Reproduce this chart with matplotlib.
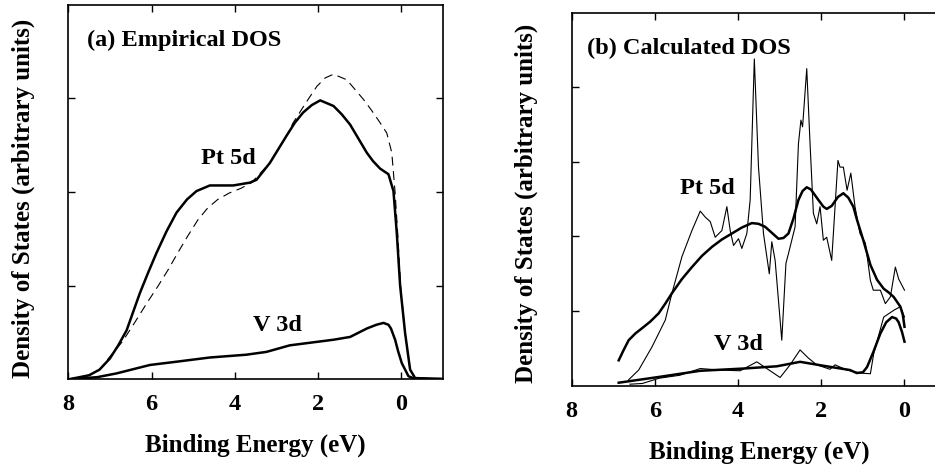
import matplotlib
matplotlib.use('Agg')
import matplotlib.pyplot as plt

plt.rcParams['font.family'] = ['Liberation Serif', 'DejaVu Serif']
plt.rcParams['font.weight'] = 'bold'
plt.rcParams['axes.labelweight'] = 'bold'

# (a) empirical DOS, binding energy (eV) vs DOS
pt_emp_e = [7.95, 7.5, 7.25, 7.0, 6.8, 6.6, 6.28, 6.08, 5.88, 5.64, 5.4, 5.15, 4.92, 4.6, 4.04,
            3.64, 3.48, 3.16, 2.76, 2.56, 2.36, 2.15, 1.95, 1.63, 1.43, 1.23, 1.03, 0.83, 0.68,
            0.51, 0.31, 0.19, 0.11, 0.03, -0.09, -0.21, -0.33, -1.0]
pt_emp_v = [0.0, 0.04, 0.10, 0.22, 0.36, 0.52, 0.92, 1.14, 1.35, 1.58, 1.78, 1.92, 2.01, 2.07,
            2.07, 2.10, 2.13, 2.31, 2.60, 2.74, 2.85, 2.93, 2.98, 2.92, 2.83, 2.72, 2.57, 2.42,
            2.33, 2.25, 2.19, 2.01, 1.56, 1.0, 0.49, 0.10, 0.01, 0.0]

pt_dash_e = [7.95, 7.5, 7.25, 7.0, 6.7, 6.41, 6.13, 5.85, 5.6, 5.37, 5.13, 4.89, 4.65, 4.41,
             4.13, 3.85, 3.6, 3.16, 2.76, 2.6, 2.3, 2.03, 1.83, 1.63, 1.31, 1.12, 0.91, 0.71,
             0.51, 0.35, 0.23, 0.15, 0.08, 0.02, -0.09, -0.21, -0.33, -1.0]
pt_dash_v = [0.0, 0.04, 0.10, 0.24, 0.40, 0.60, 0.80, 0.99, 1.17, 1.35, 1.53, 1.70, 1.83, 1.92,
             1.99, 2.04, 2.10, 2.31, 2.60, 2.74, 2.95, 3.13, 3.22, 3.26, 3.20, 3.10, 2.99, 2.87,
             2.74, 2.63, 2.42, 1.99, 1.5, 1.0, 0.49, 0.10, 0.01, 0.0]

v_emp_e = [7.9, 7.3, 6.84, 6.04, 5.4, 4.6, 3.72, 3.24, 2.68, 1.63, 1.23, 0.83, 0.60, 0.43,
           0.31, 0.25, 0.15, 0.08, -0.01, -0.17, -0.33, -1.0]
v_emp_v = [0.0, 0.02, 0.06, 0.15, 0.185, 0.23, 0.26, 0.29, 0.36, 0.42, 0.45, 0.54, 0.58, 0.60,
           0.58, 0.54, 0.42, 0.30, 0.17, 0.03, 0.0, 0.0]

# (b) calculated DOS
pt_calc_e = [6.63, 6.39, 6.07, 5.75, 5.59, 5.35, 5.11, 4.91, 4.79, 4.67, 4.55, 4.39, 4.27, 4.19,
             4.11, 3.99, 3.91, 3.79, 3.71, 3.61, 3.51, 3.39, 3.25, 3.19, 3.11, 2.95, 2.85, 2.79,
             2.63, 2.55, 2.49, 2.45, 2.35, 2.27, 2.19, 2.11, 2.03, 1.95, 1.87, 1.75, 1.60, 1.55,
             1.47, 1.38, 1.29, 1.19, 1.07, 0.94, 0.82, 0.75, 0.58, 0.46, 0.34, 0.22, 0.14, 0.0]
pt_calc_v = [0.08, 0.21, 0.52, 0.88, 1.24, 1.73, 2.08, 2.34, 2.26, 2.20, 1.99, 2.08, 2.40, 2.08,
             1.88, 1.97, 1.84, 2.04, 2.49, 4.38, 2.93, 2.04, 1.50, 1.93, 1.68, 0.61, 1.64, 1.77,
             2.13, 3.24, 3.56, 3.47, 4.25, 3.24, 2.31, 2.17, 2.40, 1.95, 1.99, 1.68, 3.02, 2.93,
             2.93, 2.62, 2.85, 2.40, 2.04, 1.91, 1.41, 1.28, 1.28, 1.10, 1.19, 1.59, 1.43, 1.28]

pt_smooth_e = [6.87, 6.75, 6.63, 6.47, 6.31, 6.11, 5.91, 5.75, 5.59, 5.35, 5.11, 4.87, 4.63,
               4.39, 4.15, 3.91, 3.67, 3.51, 3.35, 3.19, 3.03, 2.91, 2.79, 2.67, 2.55, 2.45,
               2.35, 2.25, 2.07, 1.95, 1.87, 1.75, 1.60, 1.47, 1.35, 1.23, 1.14, 0.99, 0.82,
               0.66, 0.50, 0.38, 0.26, 0.10, 0.04, 0.0]
pt_smooth_v = [0.34, 0.48, 0.61, 0.70, 0.77, 0.86, 0.97, 1.10, 1.24, 1.43, 1.59, 1.74, 1.86,
               1.96, 2.04, 2.12, 2.18, 2.17, 2.13, 2.05, 1.97, 1.98, 2.04, 2.24, 2.49, 2.61,
               2.66, 2.63, 2.49, 2.40, 2.37, 2.41, 2.53, 2.58, 2.52, 2.40, 2.22, 1.95, 1.62,
               1.42, 1.30, 1.25, 1.19, 1.06, 0.95, 0.79]

v_calc_e = [6.6, 6.3, 5.9, 5.4, 4.91, 4.43, 3.95, 3.55, 3.31, 2.99, 2.75, 2.51, 2.31, 2.11,
            1.79, 1.67, 1.39, 1.07, 0.82, 0.74, 0.50, 0.26, 0.10, 0.0]
v_calc_v = [0.02, 0.03, 0.10, 0.14, 0.23, 0.21, 0.20, 0.32, 0.23, 0.11, 0.28, 0.48, 0.37, 0.28,
            0.22, 0.28, 0.21, 0.17, 0.16, 0.43, 0.92, 1.01, 1.06, 0.92]

v_smooth_e = [6.87, 5.87, 4.91, 3.87, 3.07, 2.51, 1.87, 1.31, 1.15, 1.0, 0.90, 0.75, 0.58,
              0.44, 0.30, 0.20, 0.14, 0.06, 0.0]
v_smooth_v = [0.04, 0.12, 0.20, 0.23, 0.26, 0.32, 0.26, 0.21, 0.17, 0.18, 0.25, 0.45, 0.70,
              0.85, 0.92, 0.90, 0.85, 0.72, 0.59]

W, H = 935, 465
fig = plt.figure(figsize=(W / 100, H / 100), dpi=100)
ax1 = fig.add_axes([68.3 / W, 1 - 379 / H, 374.7 / W, 374 / H])
ax2 = fig.add_axes([571.7 / W, 1 - 385.7 / H, 374.4 / W, 373 / H])

fs = 17.5
thick, thin = 1.8, 0.8

ax1.plot(pt_emp_e, pt_emp_v, color='black', lw=thick)
ax1.plot(pt_dash_e, pt_dash_v, color='black', lw=thin, dashes=(8, 5))
ax1.plot(v_emp_e, v_emp_v, color='black', lw=thick)
ax1.set_ylim(0, 4)
ax1.text(0.05, 0.905, '(a) Empirical DOS', fontsize=fs, va='center', ha='left', transform=ax1.transAxes)
ax1.text(4.15, 2.36, 'Pt 5d', fontsize=fs, ha='center', va='center')
ax1.text(2.98, 0.57, 'V 3d', fontsize=fs, ha='center', va='center')

ax2.plot(pt_calc_e, pt_calc_v, color='black', lw=thin)
ax2.plot(pt_smooth_e, pt_smooth_v, color='black', lw=thick)
ax2.plot(v_calc_e, v_calc_v, color='black', lw=thin)
ax2.plot(v_smooth_e, v_smooth_v, color='black', lw=thick)
ax2.set_ylim(0, 5)
ax2.text(0.04, 0.905, '(b) Calculated DOS', fontsize=fs, va='center', ha='left', transform=ax2.transAxes)
ax2.text(4.75, 2.64, 'Pt 5d', fontsize=fs, ha='center', va='center')
ax2.text(4.0, 0.55, 'V 3d', fontsize=fs, ha='center', va='center')

for ax in (ax1, ax2):
    ax.set_xlim(8, -1)
    ax.set_xticks([8, 6, 4, 2, 0])
    ax.set_yticks(range(1, int(ax.get_ylim()[1])))
    ax.set_yticklabels([])
    ax.tick_params(direction='in', top=True, right=True, length=5, width=1, labelsize=fs, pad=11)
    for s in ax.spines.values():
        s.set_linewidth(1.2)
    ax.set_xlabel('Binding Energy (eV)', fontsize=18)
    ax.set_ylabel('Density of States (arbitrary units)', fontsize=18)

ax1.xaxis.set_label_coords(0.498, -0.145)
ax1.yaxis.set_label_coords(-0.089, 0.484)
ax2.xaxis.set_label_coords(0.50, -0.147)
ax2.yaxis.set_label_coords(-0.09, 0.49)

fig.savefig('out.png', dpi=100)
